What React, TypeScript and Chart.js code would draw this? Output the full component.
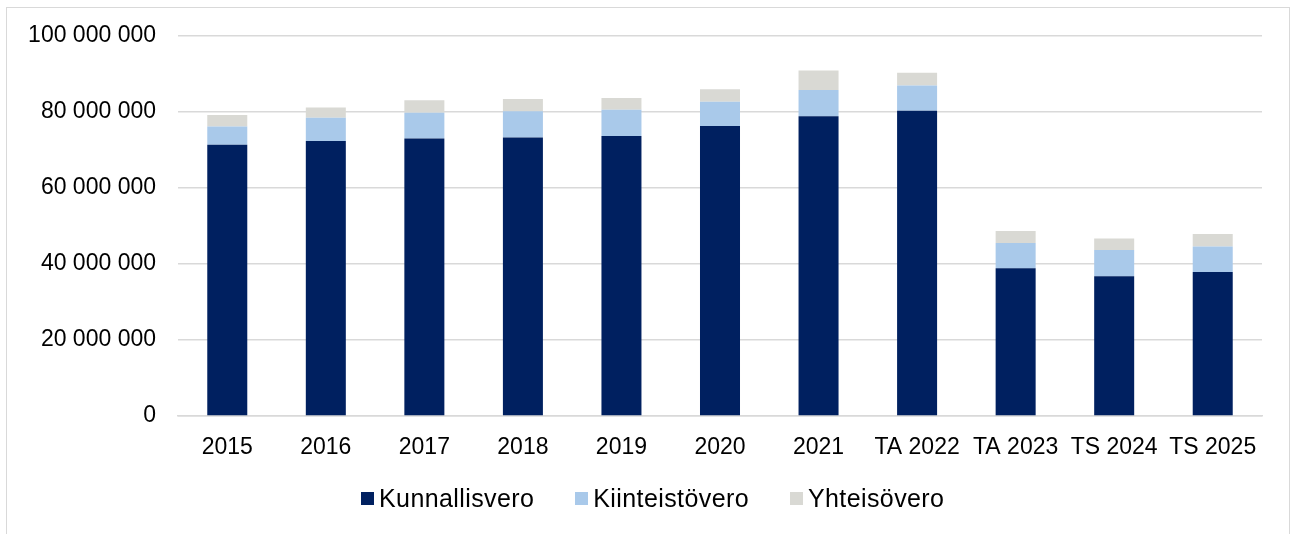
import React, { useEffect, useRef } from "react";
import { Chart, registerables } from "chart.js";

Chart.register(...registerables);

const categories = ["2015", "2016", "2017", "2018", "2019", "2020", "2021", "TA 2022", "TA 2023", "TS 2024", "TS 2025"];
const kunnallisvero = [71400000, 72400000, 73000000, 73300000, 73700000, 76300000, 78900000, 80300000, 38900000, 36800000, 37900000];
const kiinteistovero = [4800000, 6100000, 6800000, 6900000, 6900000, 6400000, 6900000, 6700000, 6600000, 6900000, 6700000];
const yhteisovero = [3000000, 2700000, 3300000, 3200000, 3100000, 3300000, 5100000, 3300000, 3200000, 3000000, 3300000];
const seriesLabels = ["Kunnallisvero", "Kiinteistövero", "Yhteisövero"];
const seriesColors = ["#002060", "#a9c9ea", "#d9d9d4"];
const yTicks = [0, 20000000, 40000000, 60000000, 80000000, 100000000];

const FONT = "'Liberation Sans', Arial, Helvetica, sans-serif";
const fmt = (v: number) => String(Math.round(v)).replace(/\B(?=(\d{3})+(?!\d))/g, " ");

export default function App() {
  const ref = useRef<HTMLCanvasElement | null>(null);
  useEffect(() => {
    if (!ref.current) return;
    const chart = new Chart(ref.current, {
      type: "bar",
      data: {
        labels: categories,
        datasets: [
          { label: seriesLabels[0], data: kunnallisvero, backgroundColor: seriesColors[0], borderWidth: 0 },
          { label: seriesLabels[1], data: kiinteistovero, backgroundColor: seriesColors[1], borderWidth: 0 },
          { label: seriesLabels[2], data: yhteisovero, backgroundColor: seriesColors[2], borderWidth: 0 },
        ],
      },
      options: {
        animation: false,
        responsive: false,
        devicePixelRatio: 1,
        layout: { padding: { top: 36, right: 33, left: 0, bottom: 68 } },
        datasets: { bar: { categoryPercentage: 1, barPercentage: 0.406 } },
        scales: {
          x: {
            stacked: true,
            grid: { display: false, drawTicks: false },
            border: { display: true, color: "#d9d9d9", width: 1.5 },
            ticks: { color: "#000", font: { family: FONT, size: 23 }, padding: 18, maxRotation: 0, autoSkip: false },
            afterFit: (s: any) => { s.height = 50; },
          },
          y: {
            stacked: true,
            min: yTicks[0],
            max: yTicks[yTicks.length - 1],
            grid: { color: "#d9d9d9", lineWidth: 1.5, drawTicks: false },
            border: { display: false },
            ticks: {
              stepSize: yTicks[1] - yTicks[0],
              color: "#000",
              font: { family: FONT, size: 23 },
              padding: 22,
              callback: (v: any) => fmt(Number(v)),
            },
            afterFit: (s: any) => { s.width = 178; },
          },
        },
        plugins: {
          legend: { display: false },
          tooltip: { enabled: false },
        },
      },
    });
    return () => chart.destroy();
  }, []);
  return (
    <div style={{ position: "fixed", left: 0, top: 0, width: 1295, height: 534, background: "#fff", overflow: "hidden" }}>
      <div style={{ position: "absolute", left: 6, top: 7, width: 1284, height: 560, border: "1px solid #d9d9d9", boxSizing: "border-box" }} />
      <canvas ref={ref} width={1295} height={534} style={{ position: "absolute", left: 0, top: 0, width: 1295, height: 534 }} />
      <div
        style={{
          position: "absolute",
          left: 361,
          top: 483,
          display: "flex",
          alignItems: "center",
          columnGap: 41,
          fontFamily: FONT,
          fontSize: 25,
          letterSpacing: "0.4px",
          lineHeight: "30px",
          color: "#000",
          whiteSpace: "nowrap",
        }}
      >
        {seriesLabels.map((l, i) => (
          <div key={l} style={{ display: "flex", alignItems: "center" }}>
            <span style={{ display: "inline-block", width: 13, height: 13, background: seriesColors[i], marginRight: 5 }} />
            <span>{l}</span>
          </div>
        ))}
      </div>
    </div>
  );
}
